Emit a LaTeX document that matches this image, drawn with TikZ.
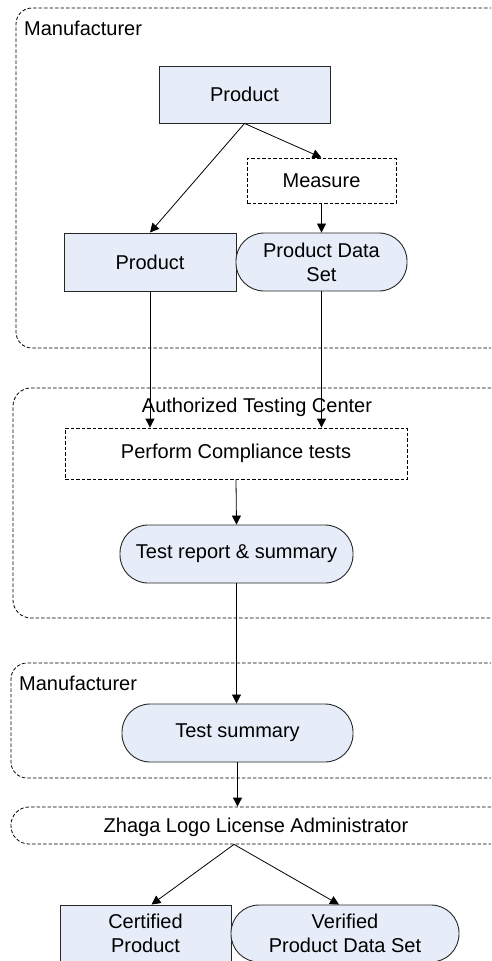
\documentclass[tikz,border=0pt]{standalone}
\usepackage{fontspec}
\setmainfont{Liberation Sans}
\usetikzlibrary{arrows.meta,calc}
\definecolor{boxfill}{RGB}{230,236,248}
\begin{document}
\begin{tikzpicture}[x=1pt,y=-1pt,
  every node/.style={font=\fontsize{20}{24}\selectfont, inner sep=0pt, align=center},
  container/.style={draw=black, line width=0.8pt, dash pattern=on 3.5pt off 2pt, rounded corners=16pt},
  solidbox/.style={draw=black!85, line width=0.9pt, fill=boxfill},
  pillbox/.style={draw=black!85, line width=0.9pt, fill=boxfill, rounded corners=28pt},
  dashbox/.style={draw=black, line width=0.8pt, dash pattern=on 3.5pt off 2pt},
  arr/.style={draw=black, line width=0.8pt, -{Triangle[length=9pt,width=9pt]}},
  ln/.style={draw=black, line width=0.8pt}]
\clip (0,0) rectangle (491,961);
% containers
\node[container, minimum width=504pt, minimum height=340pt] (c1) at (268,178) {};
\node[container, rounded corners=18pt, minimum width=507pt, minimum height=230pt] (c2) at (266.5,503) {};
\node[container, minimum width=509pt, minimum height=115pt] (c3) at (265.5,720.5) {};
\node[container, rounded corners=18pt, minimum width=509pt, minimum height=37pt] (zhaga) at (265.5,825.5) {};
% container labels
\node[anchor=west] (l1) at (24,28) {Manufacturer};
\node (l2) at (257,407) {Authorized Testing Center};
\node[anchor=west] (l3) at (19,683) {Manufacturer};
\node (l4) at (256,827) {Zhaga Logo License Administrator};
% nodes
\node[solidbox, minimum width=171pt, minimum height=57pt] (p1) at (244.5,94.5) {Product};
\node[dashbox, minimum width=149pt, minimum height=45pt] (meas) at (321.5,180.5) {Measure};
\node[solidbox, minimum width=172pt, minimum height=58pt] (p2) at (150,262) {Product};
\node[pillbox, minimum width=171pt, minimum height=58pt] (pds) at (321.5,262) {Product Data\\Set};
\node[dashbox, minimum width=342pt, minimum height=51pt] (perf) at (236,453.5) {Perform Compliance tests};
\node[pillbox, minimum width=233pt, minimum height=58pt] (trep) at (236.5,554) {Test report \& summary};
\node[pillbox, minimum width=231pt, minimum height=58pt] (tsum) at (237.5,733) {Test summary};
\node[solidbox, minimum width=171pt, minimum height=57pt] (cert) at (145.5,933.5) {Certified\\Product};
\node[pillbox, minimum width=228pt, minimum height=57pt] (ver) at (345,933.5) {Verified\\Product Data Set};
% connectors
\draw[arr] (p1.south) -- (p2.north);
\draw[arr] (p1.south) -- (meas.north);
\draw[arr] (meas.south) -- (pds.north);
\draw[arr] (p2.south) -- (p2.south |- perf.north);
\draw[arr] (pds.south) -- (pds.south |- perf.north);
\draw[arr] (perf.south) -- (trep.north);
\draw[arr] (trep.south) -- (trep.south |- tsum.north);
\draw[arr] (tsum.south) -- (tsum.south |- zhaga.north);
\coordinate (zb) at ($(zhaga.south)+(-31.5,0)$);
\draw[arr] (zb) -- ($(cert.north)+(6,0)$);
\draw[arr] (zb) -- ($(ver.north)+(-6,0)$);
\end{tikzpicture}
\end{document}
